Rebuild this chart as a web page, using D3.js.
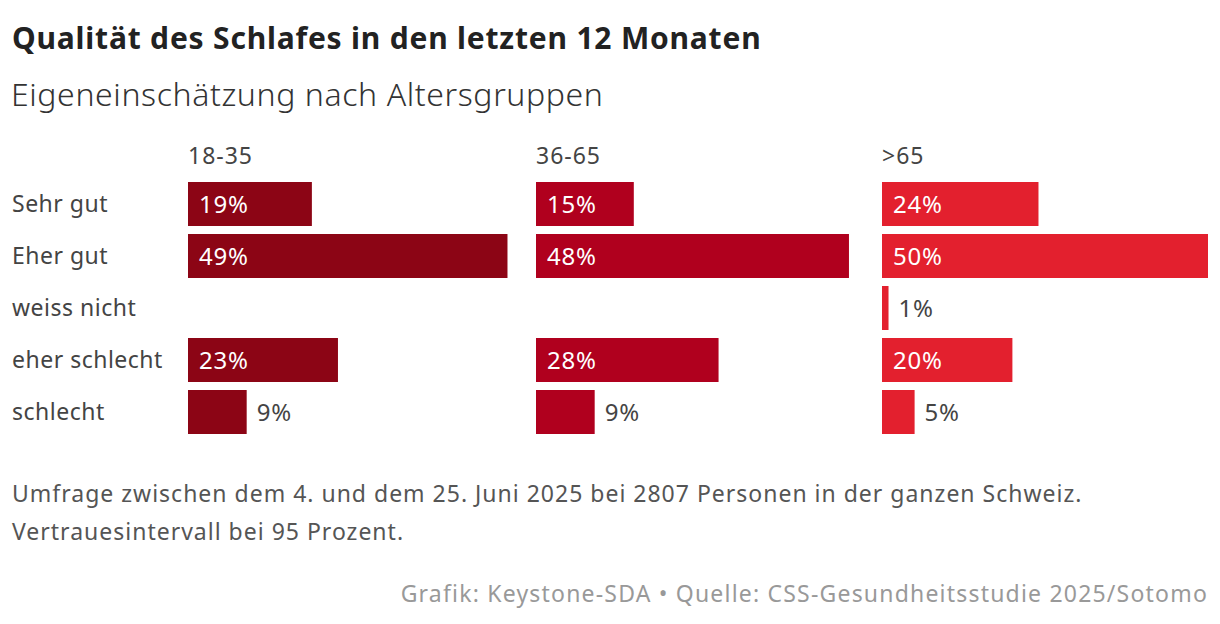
<!DOCTYPE html>
<html>
<head>
<meta charset="utf-8">
<script src="https://cdn.jsdelivr.net/npm/d3@7"></script>
<style>
  body { margin: 0; background: #fff; }
  svg { display: block; font-family: "Noto Sans", sans-serif; }
</style>
</head>
<body>
<svg class="vis" width="1220" height="624"></svg>
<script>
// data
const categories = ["Sehr gut", "Eher gut", "weiss nicht", "eher schlecht", "schlecht"];
const groups = ["18-35", "36-65", ">65"];
const values_18_35 = [19, 49, null, 23, 9];
const values_36_65 = [15, 48, null, 28, 9];
const values_65 = [24, 50, 1, 20, 5];
const group_colors = ["#8c0515", "#b0001e", "#e3202e"];

const title = "Qualität des Schlafes in den letzten 12 Monaten";
const subtitle = "Eigeneinschätzung nach Altersgruppen";
const notes = [
    "Umfrage zwischen dem 4. und dem 25. Juni 2025 bei 2807 Personen in der ganzen Schweiz.",
    "Vertrauesintervall bei 95 Prozent."
];
const source = "Grafik: Keystone-SDA • Quelle: CSS-Gesundheitsstudie 2025/Sotomo";

const svg = d3.select("svg.vis");

const series = [values_18_35, values_36_65, values_65];

// left edge of each panel
const offsets = { "18-35": 188, "36-65": 536, ">65": 882 };

const x = d3.scaleLinear()
    .domain([0, 50])
    .range([0, 326]);

const y = d3.scaleBand()
    .domain(categories)
    .range([178, 438])
    .paddingInner(0.154)
    .paddingOuter(0.077);

// header texts
svg.append("text")
    .attr("x", 12).attr("y", 49)
    .attr("font-size", 30).attr("font-weight", 700)
    .attr("letter-spacing", 0.8)
    .attr("fill", "#222")
    .text(title);

svg.append("text")
    .attr("x", 11).attr("y", 106)
    .attr("font-size", 32).attr("font-weight", 300)
    .attr("letter-spacing", 0.6)
    .attr("fill", "#333")
    .text(subtitle);

// row labels
svg.append("g")
    .selectAll("text")
    .data(categories)
    .join("text")
    .attr("x", 12)
    .attr("y", d => y(d) + y.bandwidth() / 2)
    .attr("dy", "0.1em")
    .attr("dominant-baseline", "middle")
    .attr("font-size", 23)
    .attr("letter-spacing", 0.5)
    .attr("fill", "#444")
    .text(d => d);

groups.forEach((g, i) => {

    let x0 = offsets[g];
    let rows = categories.map((c, j) => ({ cat: c, v: series[i][j] }))
        .filter(d => d.v != null);

    let panel = svg.append("g").attr("transform", `translate(${x0},0)`);

    panel.append("text")
        .attr("x", 0).attr("y", 164)
        .attr("font-size", 23)
        .attr("letter-spacing", 1)
        .attr("fill", "#444")
        .text(g);

    panel.selectAll("rect")
        .data(rows)
        .join("rect")
        .attr("x", 0)
        .attr("y", d => y(d.cat))
        .attr("width", d => x(d.v))
        .attr("height", y.bandwidth())
        .attr("fill", group_colors[i]);

    // labels inside wide bars, outside the short ones
    panel.selectAll("text.val")
        .data(rows)
        .join("text")
        .attr("class", "val")
        .attr("x", d => d.v >= 10 ? 11 : x(d.v) + 10)
        .attr("y", d => y(d.cat) + y.bandwidth() / 2)
        .attr("dy", "0.1em")
        .attr("dominant-baseline", "middle")
        .attr("font-size", 24)
        .attr("letter-spacing", 0.8)
        .attr("fill", d => d.v >= 10 ? "#fff" : "#444")
        .text(d => d.v + "%");
});

// footnotes
svg.append("g")
    .selectAll("text")
    .data(notes)
    .join("text")
    .attr("x", 12)
    .attr("y", (d, i) => 502 + i * 38)
    .attr("font-size", 23)
    .attr("letter-spacing", 1)
    .attr("fill", "#555")
    .text(d => d);

svg.append("text")
    .attr("x", 1208).attr("y", 602)
    .attr("text-anchor", "end")
    .attr("font-size", 23)
    .attr("letter-spacing", 1.2)
    .attr("fill", "#999")
    .text(source);
</script>
</body>
</html>
